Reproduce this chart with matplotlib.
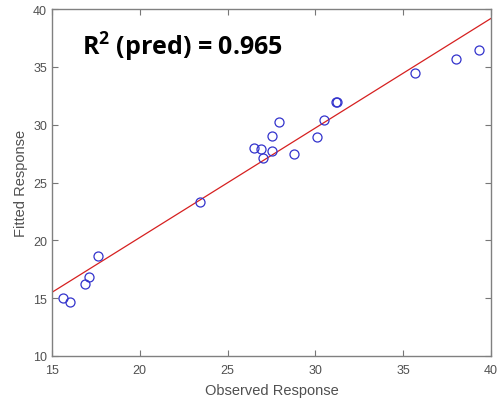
import matplotlib.pyplot as plt
import numpy as np

# Observed vs fitted response values
observed = [15.6, 16.0, 16.9, 17.1, 17.6, 23.4, 26.5, 26.9, 27.0, 27.5, 27.5,
            27.9, 28.8, 30.1, 30.5, 31.2, 31.25, 35.7, 38.0, 39.3]
fitted = [15.0, 14.7, 16.2, 16.8, 18.6, 23.3, 28.0, 27.9, 27.1, 29.0, 27.7,
          30.2, 27.5, 28.9, 30.4, 32.0, 32.0, 34.5, 35.7, 36.5]

x_ticks = [15, 20, 25, 30, 35, 40]
y_ticks = [10, 15, 20, 25, 30, 35, 40]

# reference line drawn on the chart
line_x = [15, 40]
line_y = [15.5, 39.2]

gray = '#505050'
plt.rcParams['font.family'] = ['Liberation Sans', 'DejaVu Sans']
plt.rcParams['mathtext.fontset'] = 'custom'
plt.rcParams['mathtext.rm'] = 'Open Sans'
plt.rcParams['mathtext.bf'] = 'Open Sans:bold'

fig = plt.figure(figsize=(5, 4.06), dpi=100)
ax = fig.add_axes([0.104, 0.121, 0.878, 0.854])

ax.plot(line_x, line_y, color='#d62020', linewidth=0.9, zorder=2)
ax.plot(observed, fitted, 'o', markerfacecolor='none', markeredgecolor='#3333cc',
        markersize=6.5, markeredgewidth=0.9, zorder=3)

ax.set_xlim(15, 40)
ax.set_ylim(10, 40)
ax.set_xticks(x_ticks)
ax.set_yticks(y_ticks)
ax.tick_params(direction='in', top=True, right=True, length=4, width=0.8,
               colors='#777777', labelcolor=gray, labelsize=9)
ax.tick_params(axis='x', pad=6)
for s in ax.spines.values():
    s.set_color('#808080')
    s.set_linewidth(1.0)

ax.set_xlabel('Observed Response', fontsize=10.5, color=gray, labelpad=5)
ax.set_ylabel('Fitted Response', fontsize=10.5, color=gray, labelpad=4)

ax.text(0.068, 0.893, r'$\mathbf{R^2}$ (pred) = 0.965', transform=ax.transAxes,
        fontsize=18, fontweight='bold', family='Open Sans', color='black',
        va='center', ha='left')

fig.savefig('out.png', dpi=100)
